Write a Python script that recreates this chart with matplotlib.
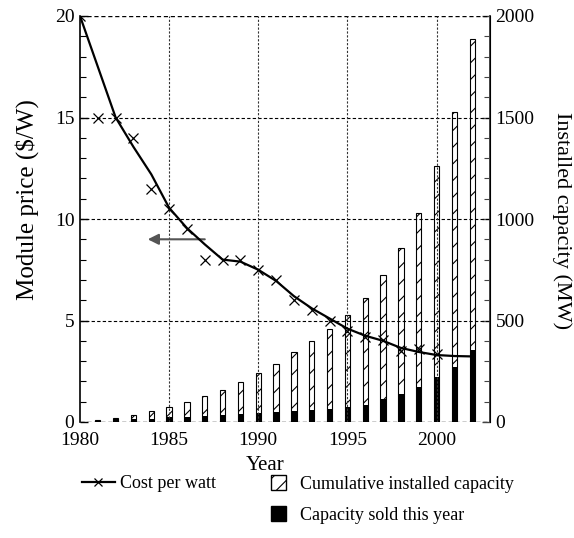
import matplotlib
matplotlib.use("Agg")
import matplotlib.pyplot as plt
from matplotlib.patches import Patch
from matplotlib.lines import Line2D
from matplotlib.ticker import MultipleLocator

plt.rcParams['font.family'] = ['Liberation Serif', 'DejaVu Serif']
plt.rcParams['hatch.linewidth'] = 0.8

# Module price ($/W): observed points and smoothed trend
price_years = list(range(1980, 2001))
price_points = [20, 15, 15, 14, 11.5, 10.5, 9.5, 8, 8, 8, 7.5, 7, 6, 5.5, 5,
                4.5, 4.2, 4.05, 3.5, 3.6, 3.35]
trend_years = list(range(1980, 2003))
trend_values = [20, 17.5, 15, 13.55, 12.2, 10.55, 9.55, 8.75, 8.0, 7.9, 7.5,
                6.95, 6.2, 5.6, 5.1, 4.6, 4.25, 4.0, 3.65, 3.45, 3.3, 3.25, 3.23]

# Installed capacity (MW)
cap_years = list(range(1981, 2003))
cumulative_mw = [10, 21, 36, 56, 76, 100, 130, 160, 199, 240, 288, 346, 400,
                 459, 528, 613, 724, 859, 1031, 1261, 1529, 1887]
sold_mw = [7, 14, 13, 16, 23, 23, 30, 33, 40, 45, 49, 56, 57, 62, 74, 84, 111,
           139, 174, 221, 269, 357]

fig = plt.figure(figsize=(5.74, 5.38), dpi=100)
ax = fig.add_axes([80 / 574, 1 - 422 / 538, 410 / 574, 406 / 538])
ax2 = ax.twinx()

# Bars on the capacity axis
bw = 0.3
ax2.bar(cap_years, cumulative_mw, width=bw, facecolor='white',
        edgecolor='black', linewidth=0.8, hatch='//', zorder=2)
ax2.bar(cap_years, sold_mw, width=bw, color='black', zorder=3)

# Price trend and points
ax.set_zorder(ax2.get_zorder() + 1)
ax.patch.set_visible(False)
ax.plot(trend_years, trend_values, color='black', lw=1.6, zorder=4)
ax.plot(price_years, price_points, ls='none', marker='x', ms=6.5, mew=0.9,
        color='black', zorder=4)

ax.annotate('', xy=(1983.8, 9.0), xytext=(1987.0, 9.0),
            arrowprops=dict(arrowstyle='-|>', color='#555555', lw=1.5,
                            mutation_scale=16, shrinkA=0, shrinkB=0))

# Axes limits and ticks
ax.set_xlim(1980, 2003)
ax.set_ylim(0, 20)
ax2.set_ylim(0, 2000)
ax.set_xticks([1980, 1985, 1990, 1995, 2000])
ax.yaxis.set_major_locator(MultipleLocator(5))
ax.yaxis.set_minor_locator(MultipleLocator(1))
ax2.yaxis.set_major_locator(MultipleLocator(500))
ax2.yaxis.set_minor_locator(MultipleLocator(100))

ax.tick_params(axis='x', length=0, labelsize=14, pad=7)
ax.tick_params(axis='y', which='major', direction='in', length=6, width=1,
               labelsize=14, pad=4)
ax.tick_params(axis='y', which='minor', direction='in', length=4, width=0.8)
ax2.tick_params(axis='y', which='major', direction='in', length=6, width=1,
                labelsize=14, pad=4, color='#444444')
ax2.tick_params(axis='y', which='minor', direction='in', length=4, width=0.8,
                color='#444444')

for a in (ax, ax2):
    a.spines['top'].set_visible(False)
    a.spines['bottom'].set_visible(False)
ax.spines['left'].set_linewidth(1.2)
ax2.spines['left'].set_visible(False)
ax2.spines['right'].set_linewidth(1.4)
ax2.spines['right'].set_color('#444444')

# Grid lines
for y in [0, 20]:
    ax.axhline(y, color='black', ls=(0, (3, 2)), lw=1.0, zorder=1)
for y in [5, 10, 15]:
    ax.axhline(y, color='black', ls=(0, (3, 2)), lw=0.8, zorder=1)
for x in [1985, 1990, 1995, 2000]:
    ax.axvline(x, color='#333333', ls=(0, (2, 1.5)), lw=0.8, zorder=1)

ax.set_xlabel('Year', fontsize=15)
ax.xaxis.set_label_coords((265 - 80) / 410, -(466 - 422) / 406, transform=ax.transAxes)
ax.xaxis.label.set_va('center')
ax.set_ylabel('Module price ($/W)', fontsize=18)
ax.yaxis.set_label_coords(-(80 - 27) / 410, (422 - 200) / 406, transform=ax.transAxes)
ax.yaxis.label.set_va('center')
ax2.set_ylabel('Installed capacity (MW)', fontsize=16, rotation=270)
ax2.yaxis.set_label_coords((562 - 80) / 410, (422 - 221) / 406, transform=ax.transAxes)
ax2.yaxis.label.set_va('center')

# Legends below the plot
line_handle = Line2D([], [], color='black', lw=1.6, marker='x', ms=5.5, mew=0.9)
fig.legend(handles=[line_handle], labels=['Cost per watt'],
           loc='upper left', bbox_to_anchor=(82 / 574, 1 - 475 / 538),
           frameon=False, fontsize=13, handlelength=1.8, handletextpad=0.3,
           borderaxespad=0, borderpad=0)
patch_handles = [Patch(facecolor='white', edgecolor='black', hatch='//'),
                 Patch(facecolor='black', edgecolor='black')]
fig.legend(handles=patch_handles,
           labels=['Cumulative installed capacity', 'Capacity sold this year'],
           loc='upper left', bbox_to_anchor=(271 / 574, 1 - 475 / 538),
           frameon=False, fontsize=13, handlelength=0.85, handleheight=0.9,
           handletextpad=0.75, labelspacing=0.75, borderaxespad=0, borderpad=0)

fig.savefig('out.png', dpi=100)
